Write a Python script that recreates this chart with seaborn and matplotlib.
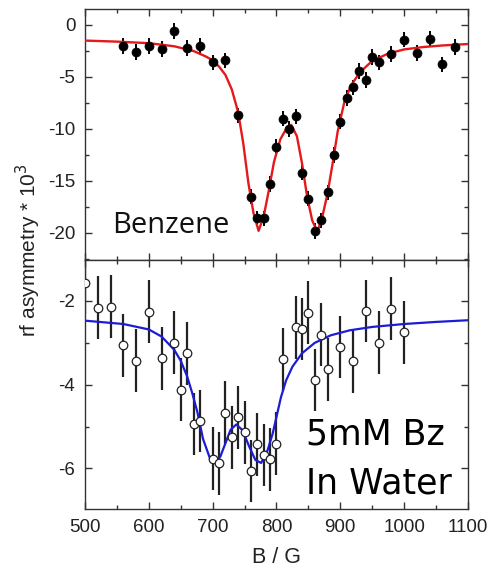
import numpy as np
import pandas as pd
import matplotlib
matplotlib.use("Agg")
import matplotlib.pyplot as plt
from matplotlib.ticker import MultipleLocator
import seaborn as sns

# benzene data (top panel)
bz_field = [560, 580, 600, 620, 640, 660, 680, 700, 720, 740, 760, 770, 780, 790, 800,
            810, 820, 830, 840, 850, 860, 870, 880, 890, 900, 910, 920, 930, 940, 950,
            960, 980, 1000, 1020, 1040, 1060, 1080]
bz_asym = [-2.0, -2.6, -2.0, -2.3, -0.6, -2.2, -2.0, -3.6, -3.4, -8.7, -16.5, -18.6, -18.6,
           -15.3, -11.7, -9.0, -10.0, -8.8, -14.2, -16.7, -19.8, -18.8, -16.1, -12.5, -9.3,
           -7.0, -6.0, -4.4, -5.3, -3.1, -3.6, -2.8, -1.4, -2.7, -1.3, -3.8, -2.1]
bz_err = [0.75] * len(bz_field)

# fitted curve, benzene
bz_fit_field = [500, 550, 600, 640, 670, 690, 700, 710, 720, 730, 740, 748, 756, 764, 772,
                780, 788, 796, 806, 816, 823, 832, 840, 848, 856, 864, 872, 880, 888, 896,
                906, 916, 930, 950, 975, 1000, 1030, 1060, 1100]
bz_fit = [-1.5, -1.6, -1.75, -2.05, -2.5, -3.05, -3.4, -4.0, -4.8, -6.2, -8.4, -11.4, -15.2,
          -18.1, -19.8, -18.4, -15.9, -13.2, -11.0, -9.9, -9.6, -10.7, -13.3, -16.5, -18.8,
          -19.9, -18.4, -16.2, -13.3, -10.2, -7.5, -5.9, -4.6, -3.45, -2.75, -2.35, -2.12,
          -1.97, -1.83]

# 5mM benzene in water (bottom panel)
wt_field = [500, 520, 540, 560, 580, 600, 620, 640, 650, 660, 670, 680, 700, 710, 720, 730,
            740, 750, 760, 770, 780, 790, 800, 810, 830, 840, 850, 860, 870, 880, 900, 920,
            940, 960, 980, 1000]
wt_asym = [-1.56, -2.16, -2.14, -3.06, -3.43, -2.26, -3.37, -3.0, -4.12, -3.25, -4.94, -4.87,
           -5.77, -5.88, -4.67, -5.26, -4.78, -5.14, -6.06, -5.42, -5.68, -5.78, -5.41, -3.39,
           -2.63, -2.67, -2.28, -3.89, -2.81, -3.63, -3.1, -3.44, -2.24, -3.0, -2.18, -2.75]
wt_err = [0.75] * len(wt_field)

wt_fit_field = [500, 560, 600, 620, 640, 650, 660, 668, 676, 685, 696, 704, 712, 720, 728,
                737, 747, 757, 767, 776, 786, 794, 800, 807, 815, 825, 840, 860, 885, 915,
                950, 1000, 1050, 1100]
wt_fit = [-2.47, -2.55, -2.68, -2.85, -3.17, -3.43, -3.8, -4.2, -4.65, -5.3, -5.77, -5.85,
          -5.72, -5.4, -5.08, -4.95, -5.09, -5.47, -5.8, -5.87, -5.57, -5.17, -4.77, -4.3,
          -3.9, -3.57, -3.25, -3.0, -2.82, -2.7, -2.62, -2.55, -2.5, -2.46]

sns.set_style("ticks")
plt.rcParams['font.family'] = ['Liberation Sans', 'DejaVu Sans']
plt.rcParams['axes.linewidth'] = 1.0
plt.rcParams['axes.edgecolor'] = '#333333'
plt.rcParams['axes.unicode_minus'] = False

fig = plt.figure(figsize=(4.89, 5.68), dpi=100)
ax1 = fig.add_axes([0.1738, 0.5423, 0.7832, 0.4419])
ax2 = fig.add_axes([0.1738, 0.1039, 0.7832, 0.4384])

# top panel
ax1.errorbar(bz_field, bz_asym, yerr=bz_err, fmt='none', ecolor='black', elinewidth=1.4,
             capsize=0, zorder=2)
sns.lineplot(x=bz_fit_field, y=bz_fit, ax=ax1, color='#e3191c', lw=1.7, zorder=3)
sns.scatterplot(x=bz_field, y=bz_asym, ax=ax1, s=42, color='black', edgecolor='black',
                linewidth=0.5, zorder=4)
ax1.set_ylim(-22.6, 1.54)
ax1.yaxis.set_major_locator(MultipleLocator(5))
ax1.yaxis.set_minor_locator(MultipleLocator(2.5))
ax1.text(0.07, 0.108, "Benzene", transform=ax1.transAxes, fontsize=21,
         family='Open Sans', va='baseline', ha='left', color='#111111')

# bottom panel
ax2.errorbar(wt_field, wt_asym, yerr=wt_err, fmt='none', ecolor='#222222', elinewidth=1.6,
             capsize=0, zorder=2)
sns.lineplot(x=wt_fit_field, y=wt_fit, ax=ax2, color='#1c1cd6', lw=1.6, zorder=3)
sns.scatterplot(x=wt_field, y=wt_asym, ax=ax2, s=38, color='white', edgecolor='#222222',
                linewidth=0.9, zorder=4)
ax2.set_ylim(-6.97, -1.02)
ax2.yaxis.set_major_locator(MultipleLocator(2))
ax2.yaxis.set_minor_locator(MultipleLocator(1))
ax2.text(0.577, 0.257, "5mM Bz", transform=ax2.transAxes, fontsize=25,
         family='DejaVu Sans', va='baseline', ha='left', color='black')
ax2.text(0.577, 0.064, "In Water", transform=ax2.transAxes, fontsize=25,
         family='DejaVu Sans', va='baseline', ha='left', color='black')

for ax in (ax1, ax2):
    ax.set_xlim(500, 1100)
    ax.xaxis.set_major_locator(MultipleLocator(100))
    ax.xaxis.set_minor_locator(MultipleLocator(50))
    ax.tick_params(which='both', direction='in', top=True, right=True,
                   color='#333333', labelcolor='#222222', labelsize=13.5, pad=7)
    ax.tick_params(which='major', length=5, width=1.0)
    ax.tick_params(which='minor', length=3.2, width=1.0)
    ax.set_xlabel("")
    ax.set_ylabel("")
    for sp in ax.spines.values():
        sp.set_visible(True)

ax1.tick_params(labelbottom=False)
ax2.set_xlabel("B / G", fontsize=15.5, color='#222222', labelpad=8)

fig.text(0.058, 0.56, "rf asymmetry * 10$^3$", rotation=90, ha='center', va='center',
         fontsize=15, color='#222222')

fig.savefig("out.png", dpi=100)
